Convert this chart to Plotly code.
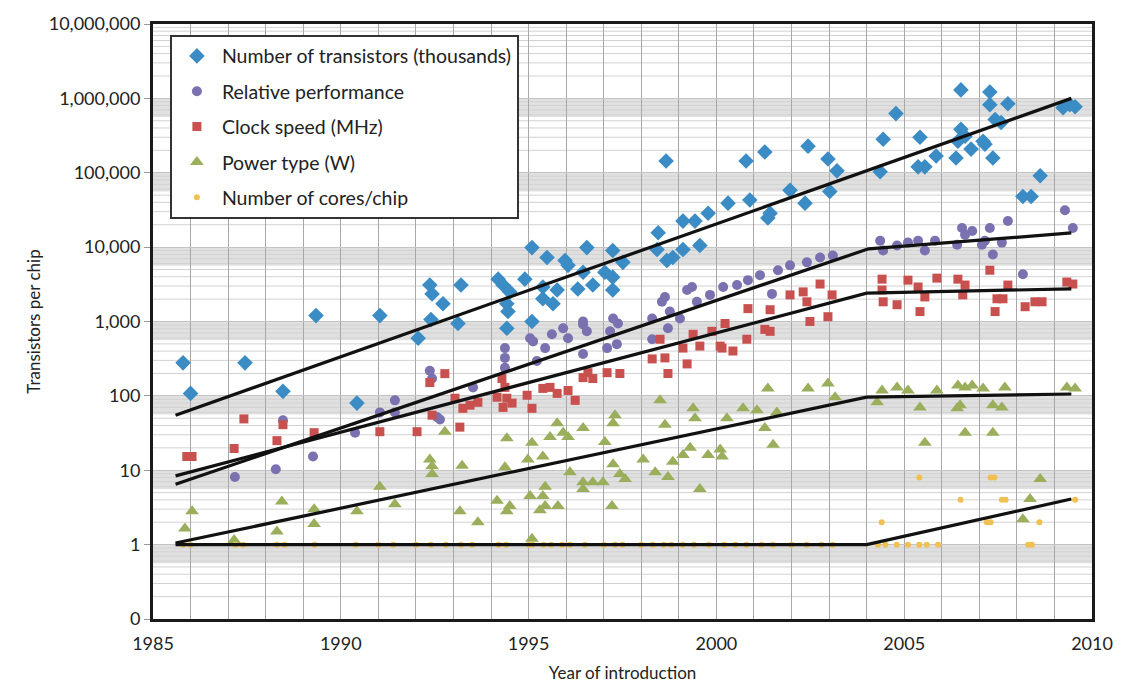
import numpy as np
import plotly.graph_objects as go

# ---------------- data ----------------
tr_year = [1985.8, 1986.0, 1987.45, 1988.46, 1989.34, 1990.43, 1991.04, 1992.06, 1992.37, 1992.43,
           1992.40, 1992.72, 1993.20, 1993.12, 1994.19, 1994.32, 1994.50, 1994.42, 1994.45, 1994.42,
           1994.90, 1995.09, 1995.09, 1995.38, 1995.38, 1995.49, 1995.65, 1995.76, 1995.97, 1996.05,
           1996.31, 1996.45, 1996.55, 1996.71, 1997.03, 1997.24, 1997.24, 1997.24, 1997.51, 1998.42,
           1998.45, 1998.66, 1998.68, 1998.84, 1999.11, 1999.11, 1999.43, 1999.56, 1999.78, 2000.31,
           2000.79, 2000.89, 2001.29, 2001.37, 2001.43, 2001.96, 2002.36, 2002.44, 2002.97, 2003.02,
           2003.21, 2004.36, 2004.44, 2004.78, 2005.37, 2005.42, 2005.55, 2005.85, 2006.38, 2006.43,
           2006.51, 2006.51, 2006.62, 2006.78, 2007.10, 2007.15, 2007.28, 2007.28, 2007.36, 2007.42,
           2007.58, 2007.76, 2008.16, 2008.38, 2008.62, 2009.23, 2009.41, 2009.55]
tr_val = [278, 108, 278, 115, 1200, 80, 1200, 595, 3090, 2350,
          1060, 1730, 3090, 940, 3710, 3090, 2500, 1730, 1360, 810,
          3710, 9850, 1000, 2910, 2020, 7260, 1730, 2650, 6620, 5690,
          2740, 4590, 9850, 3090, 4590, 9000, 3950, 2650, 6240, 9270,
          15600, 144000, 6620, 7260, 22400, 9270, 22400, 10500, 28600, 39000,
          144000, 43000, 190000, 24600, 28600, 58000, 39000, 228000, 153000, 56000,
          106000, 103000, 282000, 624000, 120000, 300000, 120000, 168000, 158000, 265000,
          383000, 1300000, 309000, 208000, 265000, 242000, 1220000, 820000, 158000, 519000,
          473000, 845000, 48000, 48000, 91000, 748000, 820000, 771000]

perf_year = [1987.18, 1988.27, 1988.46, 1989.26, 1990.38, 1991.04, 1991.44, 1991.44, 1992.37, 1992.43,
             1992.56, 1992.64, 1993.52, 1994.37, 1994.37, 1994.37, 1995.04, 1995.12, 1995.22, 1995.44,
             1995.62, 1995.92, 1996.05, 1996.45, 1996.45, 1996.55, 1996.45, 1997.09, 1997.17, 1997.25,
             1997.35, 1997.38, 1998.29, 1998.29, 1998.55, 1998.63, 1998.71, 1998.76, 1999.03, 1999.22,
             1999.35, 1999.48, 1999.83, 2000.18, 2000.55, 2000.84, 2001.16, 2001.48, 2001.64, 2001.96,
             2002.41, 2002.76, 2003.10, 2004.36, 2004.44, 2004.81, 2005.10, 2005.37, 2005.55, 2005.82,
             2006.41, 2006.54, 2006.62, 2006.81, 2007.07, 2007.15, 2007.28, 2007.36, 2007.60, 2007.76,
             2008.16, 2009.28, 2009.49]
perf_val = [8.1, 10.3, 47, 15.3, 32, 60, 87, 60, 218, 171,
            52, 48, 130, 439, 324, 238, 595, 540, 295, 439,
            673, 810, 595, 912, 365, 738, 1000, 439, 738, 1100,
            496, 940, 1100, 578, 1840, 2140, 810, 1360, 1100, 2650,
            2910, 1840, 2280, 2910, 3090, 3600, 4200, 2350, 4890, 5690,
            6240, 7260, 7710, 12200, 9000, 10500, 11500, 12200, 9000, 12200,
            10800, 18100, 14700, 16500, 10800, 12200, 18100, 7960, 11500, 22400,
            4320, 31400, 18100]

clk_year = [1985.9, 1986.04, 1987.16, 1987.42, 1988.30, 1988.46, 1989.29, 1991.04, 1992.03, 1992.37,
            1992.77, 1992.43, 1993.17, 1993.04, 1993.25, 1993.44, 1993.65, 1994.16, 1994.32, 1994.42,
            1994.37, 1994.29, 1994.56, 1994.96, 1995.09, 1995.38, 1995.57, 1995.76, 1996.05, 1996.24,
            1996.45, 1996.58, 1996.71, 1997.09, 1997.43, 1998.29, 1998.50, 1998.63, 1998.71, 1999.11,
            1999.22, 1999.38, 1999.56, 1999.88, 2000.10, 2000.15, 2000.23, 2000.44, 2000.81, 2000.84,
            2001.29, 2001.43, 2001.43, 2001.96, 2002.31, 2002.41, 2002.49, 2002.76, 2002.97, 2003.08,
            2004.41, 2004.41, 2004.44, 2004.81, 2005.10, 2005.37, 2005.55, 2005.42, 2005.87, 2006.43,
            2006.56, 2006.62, 2007.28, 2007.42, 2007.47, 2007.63, 2007.76, 2008.22, 2008.48, 2008.67,
            2009.33, 2009.49]
clk_val = [15.3, 15.3, 19.6, 49, 25, 41, 32, 33, 33, 151,
           199, 55, 38, 93, 68, 75, 82, 96, 70, 93,
           130, 171, 80, 102, 68, 126, 130, 108, 118, 87,
           176, 205, 171, 205, 200, 314, 578, 324, 200, 439,
           269, 673, 467, 738, 467, 439, 940, 401, 578, 1490,
           783, 1440, 738, 2280, 2500, 1840, 1000, 3190, 1160, 2280,
           3710, 2650, 1840, 1680, 3600, 2910, 2140, 1360, 3830, 3710,
           2280, 3090, 4890, 1360, 2020, 2020, 3090, 1580, 1840, 1840,
           3390, 3190]

pwr_year = [1985.85, 1986.04, 1987.16, 1988.30, 1988.43, 1989.29, 1989.29, 1990.43, 1991.04, 1991.44,
            1992.37, 1992.43, 1992.43, 1992.77, 1993.23, 1993.17, 1993.65, 1994.16, 1994.42, 1994.37,
            1994.50, 1994.42, 1994.98, 1995.09, 1995.04, 1995.09, 1995.30, 1995.38, 1995.44, 1995.38,
            1995.44, 1995.57, 1995.76, 1995.92, 1996.05, 1995.78, 1996.10, 1996.45, 1996.45, 1996.45,
            1996.71, 1996.98, 1997.03, 1997.22, 1997.25, 1997.30, 1997.25, 1997.43, 1997.57, 1998.05,
            1998.37, 1998.50, 1998.63, 1998.71, 1998.84, 1999.11, 1999.30, 1999.38, 1999.43, 1999.56,
            1999.78, 2000.10, 2000.15, 2000.28, 2000.71, 2001.08, 2001.37, 2001.29, 2001.51, 2001.61,
            2002.44, 2002.97, 2003.16, 2004.28, 2004.41, 2004.81, 2005.10, 2005.42, 2005.55, 2005.87,
            2006.43, 2006.62, 2006.81, 2006.41, 2006.49, 2006.62, 2007.10, 2007.36, 2007.60, 2007.68,
            2007.36, 2008.62, 2008.35, 2008.16, 2009.33, 2009.55]
pwr_val = [1.65, 2.8, 1.15, 1.5, 3.8, 1.9, 3.0, 2.8, 6.0, 3.5,
           14, 11.3, 8.9, 33, 11.5, 2.8, 2.0, 3.9, 27, 11,
           3.3, 2.8, 14, 23.5, 4.5, 1.2, 2.9, 15.3, 6.0, 4.5,
           3.3, 28, 43, 32, 28, 3.3, 9.4, 37, 6.9, 5.6,
           6.9, 6.9, 24, 3.3, 12, 55, 43, 8.9, 7.6, 14,
           9.4, 87, 41, 8.1, 13, 16, 20, 68, 50, 5.6,
           16, 19, 15.3, 50, 68, 64, 126, 37, 22, 60,
           126, 147, 96, 82, 118, 130, 118, 70, 23.5, 118,
           138, 130, 138, 68, 75, 32, 126, 75, 70, 130,
           32, 7.6, 4.1, 2.2, 130, 126]

core_year = [1985.8, 1986.0, 1987.2, 1987.4, 1988.3, 1988.5, 1989.3, 1990.4, 1991.0, 1991.4,
             1992.0, 1992.4, 1992.8, 1993.2, 1993.5, 1994.2, 1994.4, 1995.0, 1995.1, 1995.4,
             1995.6, 1995.9, 1996.1, 1996.5, 1997.0, 1997.3, 1997.5, 1998.0, 1998.3, 1998.6,
             1998.8, 1999.1, 1999.4, 1999.8, 2000.2, 2000.5, 2000.8, 2001.2, 2001.5, 2002.0,
             2002.4, 2002.8, 2003.1, 2004.3, 2004.5, 2004.8, 2005.1, 2005.4, 2005.6, 2005.9,
             2008.3, 2008.4, 2004.4, 2007.2, 2007.3, 2008.6, 2006.5, 2007.6, 2007.7, 2009.55,
             2005.4, 2007.3, 2007.4]
core_val = [1, 1, 1, 1, 1, 1, 1, 1, 1, 1,
            1, 1, 1, 1, 1, 1, 1, 1, 1, 1,
            1, 1, 1, 1, 1, 1, 1, 1, 1, 1,
            1, 1, 1, 1, 1, 1, 1, 1, 1, 1,
            1, 1, 1, 1, 1, 1, 1, 1, 1, 1,
            1, 1, 2, 2, 2, 2, 4, 4, 4, 4,
            8, 8, 8]

# trend lines
tr_trend_year = [1985.6, 2009.45]
tr_trend_val = [55, 1000000]
perf_trend_year = [1985.6, 2004.05, 2009.45]
perf_trend_val = [6.5, 9500, 15500]
clk_trend_year = [1985.6, 2004.0, 2009.45]
clk_trend_val = [8.4, 2400, 2750]
pwr_trend_year = [1985.6, 2004.0, 2009.45]
pwr_trend_val = [1.05, 96, 106]
core_trend_year = [1985.6, 2004.0, 2009.45]
core_trend_val = [1, 1, 4.1]

y_tick_vals = [0.1, 1, 10, 100, 1000, 10000, 100000, 1000000, 10000000]
y_tick_text = ["0", "1", "10", "100", "1,000", "10,000", "100,000", "1,000,000", "10,000,000"]
x_tick_vals = [1985, 1990, 1995, 2000, 2005, 2010]

names = ["Number of transistors (thousands)", "Relative performance", "Clock speed (MHz)",
         "Power type (W)", "Number of cores/chip"]

# ---------------- figure ----------------
FONT = "Lato"
TXT = "#222222"

fig = go.Figure()

series = [
    (tr_year, tr_val, "#3B8CC4", "diamond", 12),
    (perf_year, perf_val, "#7A72B0", "circle", 10),
    (clk_year, clk_val, "#C8514F", "square", 9),
    (pwr_year, pwr_val, "#9AAE5C", "triangle-up", 12),
    (core_year, core_val, "#F0C050", "circle", 6),
]
for i, (xs, ys, col, sym, sz) in enumerate(series):
    fig.add_trace(go.Scatter(
        x=xs, y=ys, mode="markers", name=names[i], legendgroup="g%d" % i,
        marker=dict(color=col, symbol=sym, size=sz, line=dict(width=0)),
    ))

for xs, ys in [(tr_trend_year, tr_trend_val), (perf_trend_year, perf_trend_val),
               (clk_trend_year, clk_trend_val), (pwr_trend_year, pwr_trend_val),
               (core_trend_year, core_trend_val)]:
    fig.add_trace(go.Scatter(x=xs, y=ys, mode="lines", showlegend=False,
                             line=dict(color="#111111", width=3.2), hoverinfo="skip"))

# gray bands just below each decade line, and light minor grid lines
shapes = []
for k in range(0, 7):
    shapes.append(dict(type="rect", xref="paper", yref="y", x0=0, x1=1,
                       y0=0.56 * 10.0 ** k, y1=10.0 ** k, fillcolor="#e0e0e0",
                       line=dict(width=0), layer="below"))
for k in range(-1, 7):
    for m in range(2, 10):
        shapes.append(dict(type="line", xref="paper", yref="y", x0=0, x1=1,
                           y0=m * 10.0 ** k, y1=m * 10.0 ** k,
                           line=dict(color="#d2d2d2", width=1), layer="below"))

fig.update_layout(
    width=1130, height=692,
    margin=dict(l=153, r=38, t=18, b=70),
    paper_bgcolor="white", plot_bgcolor="white",
    font=dict(family=FONT, size=17, color=TXT),
    shapes=shapes,
    showlegend=True,
    legend=dict(x=0.018, y=0.982, xanchor="left", yanchor="top",
                bgcolor="white", bordercolor="#333333", borderwidth=2,
                font=dict(family=FONT, size=19.5, color=TXT),
                tracegroupgap=7, itemwidth=40),
    xaxis=dict(range=[1985, 2010], tickvals=x_tick_vals, showgrid=True,
               gridcolor="#a8a8a8", gridwidth=1,
               minor=dict(dtick=1, showgrid=True, gridcolor="#a8a8a8", gridwidth=1),
               showline=True, mirror=True, linecolor="#1a1a1a", linewidth=3,
               ticks="outside", ticklen=6, tickcolor="white", zeroline=False,
               tickfont=dict(family=FONT, size=18, color=TXT),
               title=dict(text="Year of introduction", standoff=15,
                          font=dict(family=FONT, size=17, color=TXT))),
    yaxis=dict(type="log", range=[-1, 7], tickvals=y_tick_vals, ticktext=y_tick_text,
               showgrid=True, gridcolor="#c4c4c4", gridwidth=1,
               showline=True, mirror=True, linecolor="#1a1a1a", linewidth=3,
               ticks="outside", ticklen=6, tickcolor="#999999",
               zeroline=False,
               tickfont=dict(family=FONT, size=18, color=TXT),
               title=dict(text="Transistors per chip", standoff=4,
                          font=dict(family=FONT, size=17, color=TXT))),
)

fig.write_html("out.html")
